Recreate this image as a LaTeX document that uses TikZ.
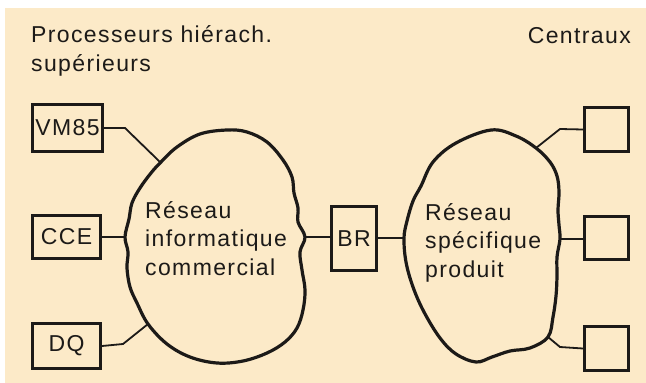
\documentclass[tikz,border=0pt]{standalone}
\usepackage{fontspec}
\setmainfont{Liberation Sans}[LetterSpace=6]
\definecolor{peach}{RGB}{252,234,200}
\definecolor{ink}{RGB}{28,26,24}
\begin{document}
\begin{tikzpicture}[x=1pt,y=-1pt,
  txt/.style={inner sep=0pt,font=\fontsize{23}{27}\selectfont,text=ink},
  box/.style={draw=ink,line width=3pt,inner sep=0pt,font=\fontsize{23}{27}\selectfont,text=ink},
  conn/.style={draw=ink,line width=1.8pt},
  cloudline/.style={draw=ink,line width=3.2pt,line join=round}]
\useasboundingbox (0,0) rectangle (646,383);
\fill[white] (0,0) rectangle (646,383);
\fill[peach] (5,8) rectangle (646,383);
% titles
\node[txt,anchor=base west] (t1) at (31,42) {Processeurs hiérach.};
\node[txt,anchor=base west] (t2) at (31,71) {supérieurs};
\node[txt,anchor=base east] (t3) at (631,43) {Centraux};
% boxes
\node[box,minimum width=70pt,minimum height=47pt] (vm) at (67.5,128) {VM85};
\node[box,minimum width=68pt,minimum height=43pt] (cce) at (66.5,237) {CCE};
\node[box,minimum width=68pt,minimum height=45pt] (dq) at (66.5,346) {DQ};
\node[box,minimum width=45pt,minimum height=64pt] (br) at (354,238.5) {BR};
\node[box,minimum width=44pt,minimum height=44pt] (c1) at (606.5,129.5) {};
\node[box,minimum width=44pt,minimum height=43pt] (c2) at (606.5,238) {};
\node[box,minimum width=44pt,minimum height=44pt] (c3) at (606.5,348.5) {};
% cloud 1
\draw[cloudline] plot[smooth cycle,tension=0.6] coordinates {
 (227,130) (247,132) (267,142) (283,160) (292,177) (294,193) (298,208) (298,222) (305,237)
 (300,252) (302,270) (305,290) (303,310) (297,328) (285,342) (267,353) (243,361) (217,363)
 (190,357) (167,344) (148,324) (137,303) (130,287) (127,268) (128,252) (125,237) (129,219)
 (132,203) (140,188) (151,173) (161,162) (177,147) (200,134)};
\coordinate (k1a) at (160,162);
\coordinate (k1b) at (125,237);
\coordinate (k1c) at (148,324);
\coordinate (k1d) at (305,237);
% cloud 2
\draw[cloudline] plot[smooth cycle,tension=0.6] coordinates {
 (491,130) (516,136) (536,148) (550,162) (557,176) (559,192) (558,210) (559,225) (560,239)
 (557,257) (557,276) (556,296) (553,317) (548,337) (530,348) (510,351) (492,357) (476,362)
 (456,354) (440,338) (424,312) (413,287) (406,262) (404,238) (407,221) (413,201) (421,186)
 (433,162) (456,143)};
\coordinate (k2a) at (536,148);
\coordinate (k2b) at (560,239);
\coordinate (k2c) at (548,337);
\coordinate (k2d) at (404,238);
% connectors
\draw[conn] (vm.east) -- (125,128) -- (k1a);
\draw[conn] (cce.east) -- (k1b);
\draw[conn] (dq.east) -- (123,344) -- (k1c);
\draw[conn] (k1d) -- (k1d -| br.west);
\draw[conn] (br.east |- k2d) -- (k2d);
\draw[conn] (c1.west) -- (560,129) -- (k2a);
\draw[conn] (k2b) -- (k2b -| c2.west);
\draw[conn] (c3.west) -- (560,347) -- (k2c);
% cloud texts
\node[txt,anchor=base west] (r1) at (145,218) {Réseau};
\node[txt,anchor=base west] (r2) at (145,246) {informatique};
\node[txt,anchor=base west] (r3) at (145,275) {commercial};
\node[txt,anchor=base west] (s1) at (425,220) {Réseau};
\node[txt,anchor=base west] (s2) at (425,248) {spécifique};
\node[txt,anchor=base west] (s3) at (425,277) {produit};
\end{tikzpicture}
\end{document}
